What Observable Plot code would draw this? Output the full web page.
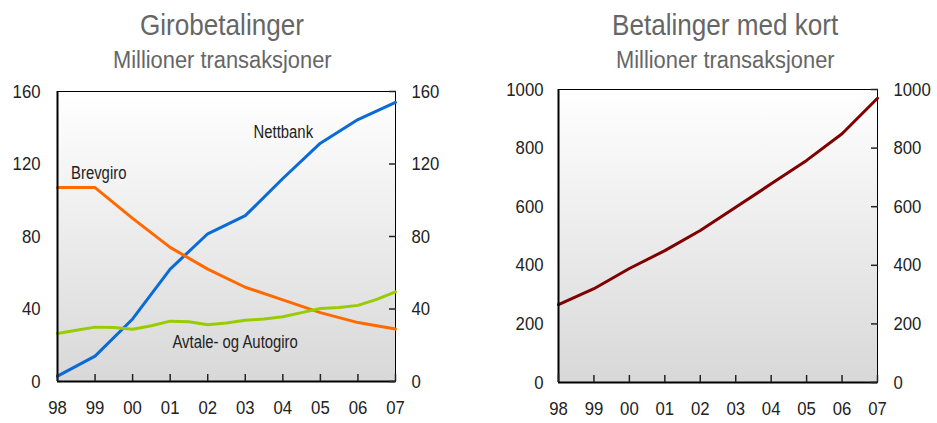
<!DOCTYPE html>
<html>
<head>
<meta charset="utf-8">
<script src="https://cdn.jsdelivr.net/npm/d3@7"></script>
<script src="https://cdn.jsdelivr.net/npm/@observablehq/plot@0.6"></script>
<style>
  html, body { margin: 0; padding: 0; background: #fff; }
  #wrap { position: relative; width: 937px; height: 423px; overflow: hidden;
    font-family: "Liberation Sans", Arial, sans-serif; }
  .t { position: absolute; white-space: nowrap; color: #666; line-height: 1; transform-origin: 0 0; }
  .title { font-size: 30px; }
  .sub { font-size: 23px; }
  .panel { position: absolute; top: 0; }
</style>
</head>
<body>
<div id="wrap">
  <div class="t title" data-cx="222" data-s="0.87" style="top:10px;">Girobetalinger</div>
  <div class="t sub" data-cx="222" data-s="0.95" style="top:49px;">Millioner transaksjoner</div>
  <div class="t title" data-cx="725" data-s="0.87" style="top:10px;">Betalinger med kort</div>
  <div class="t sub" data-cx="725" data-s="0.95" style="top:49px;">Millioner transaksjoner</div>
  <div id="left" class="panel" style="left:0px;"></div>
  <div id="right" class="panel" style="left:470px;"></div>
</div>
<script>
// ---- Data ----
const years = [1998, 1999, 2000, 2001, 2002, 2003, 2004, 2005, 2006, 2007];
const brevgiro = [107, 107, 90, 74, 62, 52, 45, 38, 32.5, 29];
const nettbank = [3, 14, 34.5, 62, 81.5, 91.5, 112, 131.5, 144.5, 154];
const avtaleTimes = [1998, 1998.5, 1999, 1999.5, 2000, 2000.5, 2001, 2001.5, 2002, 2002.5,
                     2003, 2003.5, 2004, 2004.5, 2005, 2005.5, 2006, 2006.5, 2007];
const avtale = [26.5, 28.3, 30, 29.8, 28.8, 30.8, 33.3, 33, 31.3, 32.3,
                33.8, 34.5, 35.7, 38, 40.3, 40.8, 42, 45.3, 49.5];
const kort = [266, 320, 389, 450, 519, 598, 678, 758, 849, 970];
const leftTicks = [0, 40, 80, 120, 160];
const rightTicks = [0, 200, 400, 600, 800, 1000];
const seriesLabels = [
  {name: "Brevgiro", x: 1998.36, y: 114.8},
  {name: "Nettbank", x: 2003.22, y: 137.4},
  {name: "Avtale- og Autogiro", x: 2001.06, y: 21.7}
];

const font = '"Liberation Sans", Arial, sans-serif';
const yearFmt = d => String(d).slice(2);
const numFmt = d => String(d);

function gradientDefs(id) {
  return () => {
    const ns = "http://www.w3.org/2000/svg";
    const g = document.createElementNS(ns, "g");
    g.innerHTML = `<defs><linearGradient id="${id}" x1="0" y1="0" x2="0" y2="1">
      <stop offset="0" stop-color="#ffffff"/><stop offset="1" stop-color="#d8d8d8"/></linearGradient></defs>`;
    return g;
  };
}

function axes(ticks, padL, padR, xPad) {
  return [
    Plot.axisY({anchor: "left", ticks, tickSize: 0, tickPadding: padL, tickFormat: numFmt, fontSize: 19, fill: "#222", label: null}),
    Plot.axisY({anchor: "right", ticks, tickSize: 0, tickPadding: padR, tickFormat: numFmt, fontSize: 19, fill: "#222", label: null, textAnchor: "start"}),
    Plot.axisY({anchor: "right", ticks, tickSize: 7, dx: -7, tickFormat: () => "", label: null, stroke: "#222", strokeWidth: 1.5}),
    Plot.axisX({anchor: "bottom", ticks: years, tickSize: 7, dy: -7, tickFormat: () => "", label: null, stroke: "#222", strokeWidth: 1.5}),
    Plot.axisX({anchor: "bottom", ticks: years, tickSize: 0, tickPadding: xPad, tickFormat: yearFmt, fontSize: 19, fill: "#222", label: null})
  ];
}

const leftPlot = Plot.plot({
  width: 470, height: 423,
  marginLeft: 57, marginRight: 75, marginTop: 91, marginBottom: 42,
  style: {fontFamily: font, background: "transparent", overflow: "visible"},
  x: {domain: [1998, 2007]},
  y: {domain: [0, 160]},
  marks: [
    gradientDefs("gradL"),
    Plot.frame({fill: "url(#gradL)", stroke: "#000", strokeWidth: 1}),
    Plot.line(years.map((x, i) => ({x, y: nettbank[i]})), {x: "x", y: "y", stroke: "#0a6ad6", strokeWidth: 3}),
    Plot.line(years.map((x, i) => ({x, y: brevgiro[i]})), {x: "x", y: "y", stroke: "#ff6a00", strokeWidth: 3}),
    Plot.line(avtaleTimes.map((x, i) => ({x, y: avtale[i]})), {x: "x", y: "y", stroke: "#99cc00", strokeWidth: 3}),
    Plot.ruleX([1998], {stroke: "#000", strokeWidth: 2}),
    Plot.ruleY([0], {stroke: "#000", strokeWidth: 2}),
    ...axes(leftTicks, 17, 16, 19),
    Plot.text(seriesLabels, {x: "x", y: "y", text: "name", textAnchor: "start", fontSize: 17.5, fill: "#222", className: "serieslabel"})
  ]
});
document.getElementById("left").appendChild(leftPlot);

const rightPlot = Plot.plot({
  width: 467, height: 423,
  marginLeft: 88, marginRight: 60, marginTop: 89, marginBottom: 41,
  style: {fontFamily: font, background: "transparent", overflow: "visible"},
  x: {domain: [1998, 2007]},
  y: {domain: [0, 1000]},
  marks: [
    gradientDefs("gradR"),
    Plot.frame({fill: "url(#gradR)", stroke: "#000", strokeWidth: 1}),
    Plot.line(years.map((x, i) => ({x, y: kort[i]})), {x: "x", y: "y", stroke: "#800000", strokeWidth: 3}),
    Plot.ruleX([1998], {stroke: "#000", strokeWidth: 2}),
    Plot.ruleY([0], {stroke: "#000", strokeWidth: 2}),
    ...axes(rightTicks, 15, 16, 19)
  ]
});
document.getElementById("right").appendChild(rightPlot);

// Condense text to mimic a narrow typeface
for (const svg of [leftPlot, rightPlot]) {
  svg.querySelectorAll("text").forEach(t => {
    if (!t.textContent) return;
    const isLabel = t.closest(".serieslabel") !== null;
    const s = isLabel ? 0.85 : 0.88;
    const w = t.getComputedTextLength();
    if (w > 0) {
      t.setAttribute("textLength", (w * s).toFixed(2));
      t.setAttribute("lengthAdjust", "spacingAndGlyphs");
    }
  });
}
document.querySelectorAll(".t").forEach(el => {
  const s = +el.dataset.s;
  const w = el.getBoundingClientRect().width;
  el.style.left = (+el.dataset.cx - w * s / 2) + "px";
  el.style.transform = `scaleX(${s})`;
});
</script>
</body>
</html>
